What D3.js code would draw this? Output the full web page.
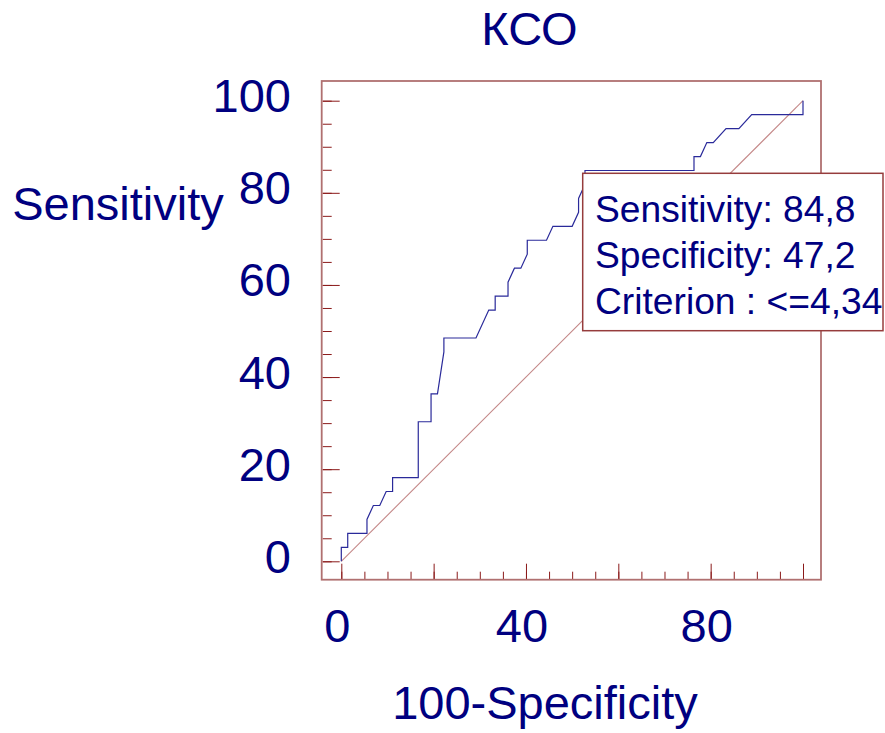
<!DOCTYPE html>
<html>
<head>
<meta charset="utf-8">
<script src="https://cdn.jsdelivr.net/npm/d3@7"></script>
<style>
  html, body { margin: 0; padding: 0; background: #fff; }
  svg { display: block; font-family: "Liberation Sans", Arial, sans-serif; }
</style>
</head>
<body>
<svg id="chart" width="885" height="733"></svg>
<script>
// ---- data ----
const title = "КСО";
const xLabel = "100-Specificity";
const yLabel = "Sensitivity";
// ROC curve points (100-Specificity %, Sensitivity %)
const fpr = [0, 0, 1.39, 1.39, 5.56, 5.56, 6.94, 8.33, 9.72, 11.11, 11.11, 16.67, 16.67, 19.44, 19.44, 20.83, 22.22, 22.22, 29.17, 31.94, 33.33, 33.33, 36.11, 36.11, 37.5, 38.89, 40.28, 40.28, 44.44, 45.83, 50.0, 51.39, 51.39, 52.78, 52.78, 76.39, 76.39, 77.78, 79.17, 80.56, 83.33, 86.11, 88.89, 100, 100];
const tpr = [0, 3.03, 3.03, 6.06, 6.06, 9.09, 12.12, 12.12, 15.15, 15.15, 18.18, 18.18, 30.30, 30.30, 36.36, 36.36, 45.45, 48.48, 48.48, 54.55, 54.55, 57.58, 57.58, 60.61, 63.64, 63.64, 66.67, 69.70, 69.70, 72.73, 72.73, 75.76, 78.79, 81.82, 84.85, 84.85, 87.88, 87.88, 90.91, 90.91, 93.94, 93.94, 96.97, 96.97, 100];
const diagX = [0, 100];
const diagY = [0, 100];
const xTickLabels = [0, 40, 80];
const yTickLabels = [0, 20, 40, 60, 80, 100];
const minorTicks = d3.range(0, 101, 5);
const majorTicks = d3.range(0, 101, 20);
const infoLines = ["Sensitivity: 84,8", "Specificity: 47,2", "Criterion : <=4,34"];

// ---- layout ----
const svg = d3.select("#chart");
const textColor = "#000080";
const frame = { left: 321.7, right: 821, top: 81, bottom: 579.7 };
const x = d3.scaleLinear().domain([0, 100]).range([341.3, 803]);
const y = d3.scaleLinear().domain([0, 100]).range([561.3, 100.7]);

// title
svg.append("text").attr("x", 529.5).attr("y", 44.5)
  .attr("text-anchor", "middle").attr("font-size", 47).attr("fill", textColor)
  .text(title);

// ticks (inward)
const tickColor = "#8b1a1a";
const xMinor = d3.axisBottom(x).tickValues(minorTicks).tickSize(-8).tickFormat("");
const xMajor = d3.axisBottom(x).tickValues(majorTicks).tickSize(-16).tickFormat("");
const yMinor = d3.axisLeft(y).tickValues(minorTicks).tickSize(-9).tickFormat("");
const yMajor = d3.axisLeft(y).tickValues(majorTicks).tickSize(-17).tickFormat("");
[xMinor, xMajor].forEach(ax => {
  const g = svg.append("g").attr("transform", `translate(0,${frame.bottom})`).call(ax);
  g.select(".domain").remove();
  g.selectAll("line").attr("stroke", tickColor).attr("stroke-width", 1);
});
[yMinor, yMajor].forEach(ax => {
  const g = svg.append("g").attr("transform", `translate(${frame.left + 1},0)`).call(ax);
  g.select(".domain").remove();
  g.selectAll("line").attr("stroke", tickColor).attr("stroke-width", 1);
});

// frame
svg.append("rect")
  .attr("x", frame.left).attr("y", frame.top)
  .attr("width", frame.right - frame.left).attr("height", frame.bottom - frame.top)
  .attr("fill", "none").attr("stroke", "#b07070").attr("stroke-width", 1.8);

// tick labels
svg.append("g").selectAll("text").data(xTickLabels).join("text")
  .attr("x", d => x(d) - 4).attr("y", 641.5)
  .attr("text-anchor", "middle").attr("font-size", 47).attr("fill", textColor)
  .text(d => d);
svg.append("g").selectAll("text").data(yTickLabels).join("text")
  .attr("x", 291).attr("y", d => y(d) + 11.5)
  .attr("text-anchor", "end").attr("font-size", 47).attr("fill", textColor)
  .text(d => d);

// axis titles
svg.append("text").attr("x", 545).attr("y", 718.5)
  .attr("text-anchor", "middle").attr("font-size", 47).attr("fill", textColor)
  .text(xLabel);
svg.append("text").attr("x", 118).attr("y", 220)
  .attr("text-anchor", "middle").attr("font-size", 47).attr("fill", textColor)
  .text(yLabel);

// diagonal reference line
svg.append("path")
  .datum(diagX.map((d, i) => [d, diagY[i]]))
  .attr("d", d3.line().x(d => x(d[0])).y(d => y(d[1])))
  .attr("fill", "none").attr("stroke", "#c48888").attr("stroke-width", 1.1);

// ROC curve
svg.append("path")
  .datum(fpr.map((d, i) => [d, tpr[i]]))
  .attr("d", d3.line().x(d => x(d[0])).y(d => y(d[1])))
  .attr("fill", "none").attr("stroke", "#2a2a9a").attr("stroke-width", 1.2);

// info box
const box = svg.append("g");
box.append("rect").attr("x", 582.7).attr("y", 173.3)
  .attr("width", 883 - 582.7).attr("height", 330.7 - 173.3)
  .attr("fill", "#fff").attr("stroke", "#963c3c").attr("stroke-width", 1.5);
box.selectAll("text").data(infoLines).join("text")
  .attr("x", 595).attr("y", (d, i) => 222 + i * 45.8)
  .attr("font-size", 37.2).attr("fill", textColor)
  .text(d => d);
</script>
</body>
</html>
